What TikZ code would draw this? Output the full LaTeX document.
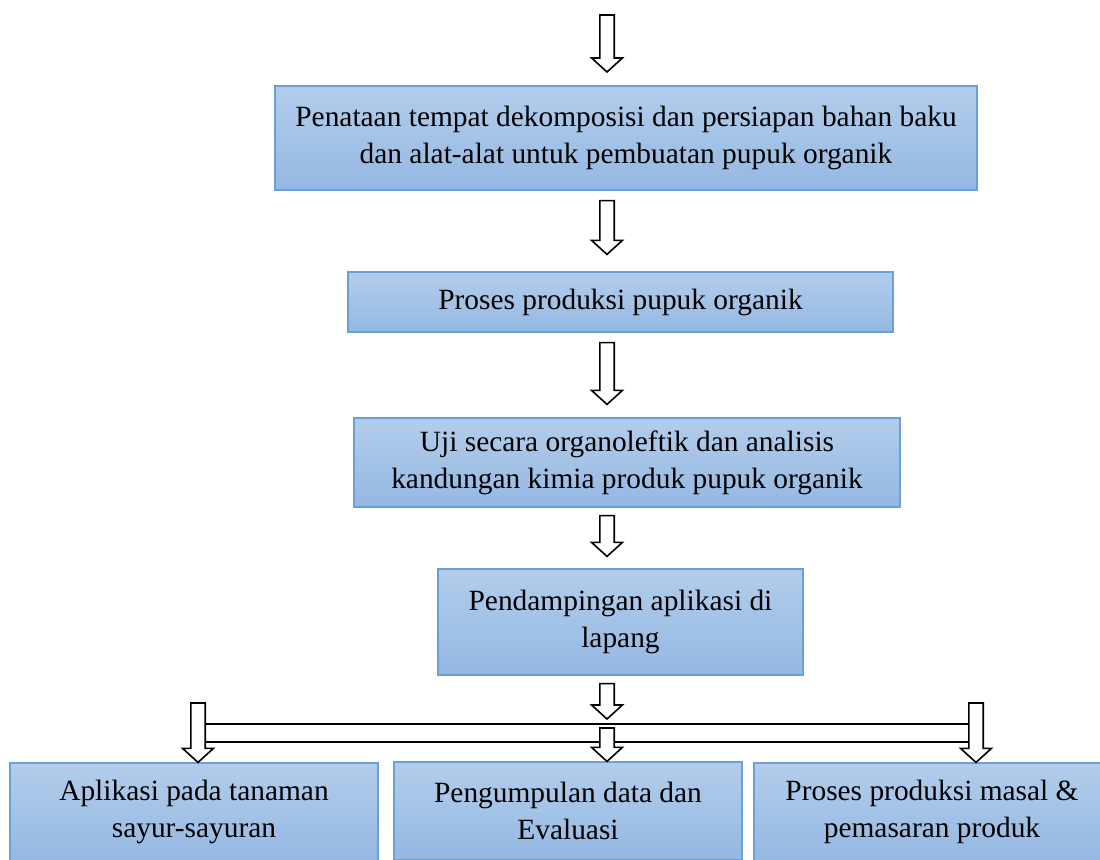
\documentclass[tikz,border=0pt]{standalone}
\usepackage{fontspec}
\setmainfont{Liberation Serif}
\usetikzlibrary{calc}

\definecolor{boxtop}{HTML}{B3CDEB}
\definecolor{boxbot}{HTML}{94B8E3}
\definecolor{boxline}{HTML}{6A9FD8}

\tikzset{
  box/.style={draw=boxline, line width=0.6pt, top color=boxtop, bottom color=boxbot,
    align=center, inner sep=0pt, font=\fontsize{14.7}{18.5}\selectfont},
  hollow/.style={draw=black, fill=white, line width=0.8pt, line join=miter},
  bus/.style={draw=black, line width=0.8pt, double=white, double distance=8.4pt}
}

% block arrow: shaft starts at #1, tip on the level of #2
\newcommand{\hollowarrow}[2]{%
  \draw[hollow] let \p1=(#1), \p2=(#2) in
    (\x1-3.6pt,\y1) -- (\x1-3.6pt,\y2+7pt) -- (\x1-7.7pt,\y2+7pt) -- (\x1,\y2)
    -- (\x1+7.7pt,\y2+7pt) -- (\x1+3.6pt,\y2+7pt) -- (\x1+3.6pt,\y1) -- cycle;}

\begin{document}
\begin{tikzpicture}[x=0.5pt,y=-0.5pt]
  \useasboundingbox (0,0) rectangle (1100,859);
  \clip (0,0) rectangle (1100,859);

  \node[box, minimum width=351pt, minimum height=52pt] (tata) at (626,138)
    {Penataan tempat dekomposisi dan persiapan bahan baku\\dan alat-alat untuk pembuatan pupuk organik};
  \node[box, minimum width=272.5pt, minimum height=30pt] (proses) at (620.5,302)
    {Proses produksi pupuk organik};
  \node[box, minimum width=273pt, minimum height=44.5pt] (uji) at (627,462.5)
    {Uji secara organoleftik dan analisis\\kandungan kimia produk pupuk organik};
  \node[box, minimum width=182.5pt, minimum height=53pt] (damping) at (620.5,622)
    {Pendampingan aplikasi di\\lapang};
  \node[box, minimum width=184pt, minimum height=49pt] (aplikasi) at (194,812)
    {Aplikasi pada tanaman\\sayur-sayuran};
  \node[box, minimum width=174pt, minimum height=49pt] (evaluasi) at (568,811)
    {Pengumpulan data dan\\Evaluasi};
  \node[box, minimum width=178pt, minimum height=49pt] (masal) at (932,812)
    {Proses produksi masal \&\\pemasaran produk};

  \coordinate (axis) at (607,0);
  \coordinate (start) at (607,15);
  \coordinate (busL) at (198,733);
  \coordinate (busR) at (976,733);

  \draw[bus] (busL) -- (busR);

  \hollowarrow{start}{axis |- 0,72}
  \hollowarrow{$(axis |- tata.south)+(0,10)$}{$(axis |- proses.north)+(0,-17)$}
  \hollowarrow{$(axis |- proses.south)+(0,10)$}{$(axis |- uji.north)+(0,-13)$}
  \hollowarrow{$(axis |- uji.south)+(0,8)$}{$(axis |- damping.north)+(0,-12)$}
  \hollowarrow{$(axis |- damping.south)+(0,8)$}{$(axis |- busL)+(0,-14)$}
  \hollowarrow{$(busL)+(0,-30)$}{aplikasi.north}
  \hollowarrow{$(axis |- busL)+(0,-5)$}{evaluasi.north}
  \hollowarrow{$(busR)+(0,-30)$}{masal.north}
\end{tikzpicture}
\end{document}
